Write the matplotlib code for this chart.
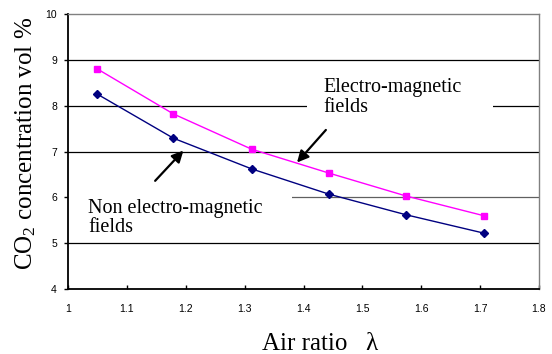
import matplotlib
matplotlib.use("Agg")
import matplotlib.pyplot as plt
from matplotlib.patches import Rectangle

air_ratio = [1.050, 1.179, 1.312, 1.443, 1.574, 1.706]
co2_em = [8.80, 7.82, 7.05, 6.53, 6.03, 5.60]
co2_non_em = [8.25, 7.29, 6.62, 6.07, 5.62, 5.22]
xticks = [1.0, 1.1, 1.2, 1.3, 1.4, 1.5, 1.6, 1.7, 1.8]
xtick_labels = ["1", "1.1", "1.2", "1.3", "1.4", "1.5", "1.6", "1.7", "1.8"]
yticks = [4, 5, 6, 7, 8, 9, 10]
grid_colors = {5: "black", 6: "#606060", 7: "black", 8: "black", 9: "black"}

serif = ["Liberation Serif", "DejaVu Serif"]
sans = ["Liberation Sans", "DejaVu Sans"]
plt.rcParams["mathtext.fontset"] = "custom"
plt.rcParams["mathtext.rm"] = "Liberation Serif"
plt.rcParams["mathtext.it"] = "Liberation Serif:italic"
plt.rcParams["mathtext.default"] = "rm"

fig = plt.figure(figsize=(5.52, 3.54), dpi=100)
ax = fig.add_axes([68/552, 1-289/354, (539-68)/552, (289-14)/354])

ax.set_xlim(1.0, 1.8)
ax.set_ylim(4, 10)
for y in yticks[1:-1]:
    ax.axhline(y, color=grid_colors[y], lw=0.9, zorder=1)

ax.plot(air_ratio, co2_em, color="#FF00FF", lw=1.0, marker="s", ms=5,
        markeredgecolor="#FF00FF", zorder=4)
ax.plot(air_ratio, co2_non_em, color="#000080", lw=1.0, marker="D", ms=4.5,
        markeredgecolor="#000080", zorder=4)

ax.set_xticks(xticks)
ax.set_xticklabels(xtick_labels, fontfamily=sans, fontsize=7.5)
ax.set_yticks(yticks)
ax.set_yticklabels([str(v) for v in yticks], fontfamily=sans, fontsize=7.5)
ax.tick_params(axis="x", direction="in", length=3, width=1, pad=11)
ax.tick_params(axis="y", direction="out", length=3, width=1, pad=5)

for s in ["top", "right"]:
    ax.spines[s].set_color("#808080")
    ax.spines[s].set_linewidth(1.0)
for s in ["left", "bottom"]:
    ax.spines[s].set_color("black")
    ax.spines[s].set_linewidth(1.3)

ax.set_xlabel("Air ratio   λ", fontfamily=serif, fontsize=18)
ax.xaxis.set_label_coords(0.535, -0.16)
ax.set_ylabel("CO$_2$ concentration vol %", fontfamily=serif, fontsize=18)
ax.yaxis.set_label_coords(-0.064, 0.53)

# white backgrounds behind the annotation texts (they hide gridline parts)
ax.add_patch(Rectangle((1.406, 7.75), 0.316, 0.75, fc="white", ec="none", zorder=2))
ax.add_patch(Rectangle((1.0, 5.78), 0.380, 0.40, fc="white", ec="none", zorder=2))

ax.text(1.434, 8.18, "Electro-magnetic\nfields", fontfamily=serif, fontsize=14.5,
        ha="left", va="center", linespacing=1.05, zorder=3)
ax.annotate("", xy=(1.389, 6.76), xytext=(1.438, 7.47),
            arrowprops=dict(arrowstyle="-|>", color="black", lw=1.6,
                            mutation_scale=17, shrinkA=0, shrinkB=0),
            zorder=5)
ax.text(1.034, 5.55, "Non electro-magnetic\nfields", fontfamily=serif, fontsize=14.5,
        ha="left", va="center", linespacing=1.05, zorder=3)
ax.annotate("", xy=(1.196, 7.02), xytext=(1.148, 6.36),
            arrowprops=dict(arrowstyle="-|>", color="black", lw=1.6,
                            mutation_scale=17, shrinkA=0, shrinkB=0),
            zorder=5)

fig.savefig("out.png", dpi=100)
